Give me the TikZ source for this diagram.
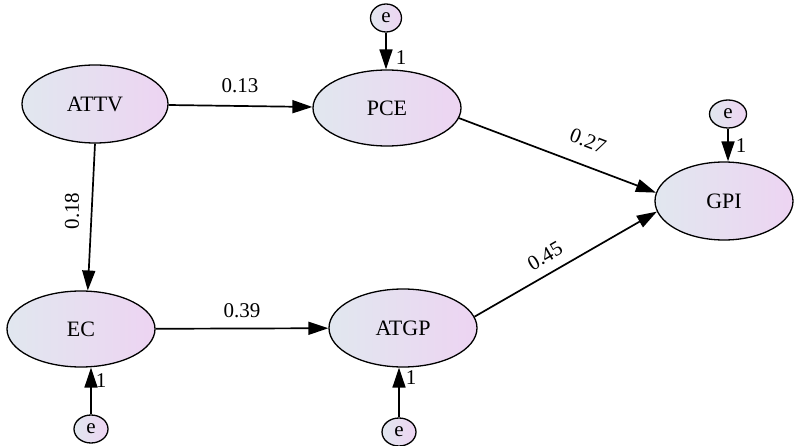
\documentclass[tikz,border=0pt]{standalone}
\usepackage{fontspec}
\setmainfont{Liberation Serif}
\usetikzlibrary{shapes.geometric,arrows.meta}
\definecolor{cleft}{HTML}{E1E7EF}
\definecolor{cright}{HTML}{EDD4F2}
\tikzset{
  lat/.style={ellipse, draw=black, line width=1.3pt, left color=cleft, right color=cright, inner sep=0pt, font=\fontsize{22}{25}\selectfont},
  err/.style={lat, minimum width=34pt, minimum height=28pt, font=\fontsize{21}{24}\selectfont},
  path/.style={line width=1.7pt, -{Triangle[length=20pt,width=13pt]}},
  coef/.style={font=\fontsize{21}{24}\selectfont, inner sep=0pt},
}
\begin{document}
\begin{tikzpicture}[x=1pt,y=-1pt]
\useasboundingbox (0,0) rectangle (794,446);
% latent variables
\node[lat, minimum width=146pt, minimum height=78pt] (ATTV) at (95,104) {ATTV};
\node[lat, minimum width=148pt, minimum height=76pt] (PCE) at (387,108) {PCE};
\node[lat, minimum width=138pt, minimum height=78pt] (GPI) at (724,201) {GPI};
\node[lat, minimum width=148pt, minimum height=76pt] (EC) at (81,329) {EC};
\node[lat, minimum width=148pt, minimum height=78pt] (ATGP) at (403,328) {ATGP};
% error terms
\node[err, minimum width=31pt] (e1) at (386,18) {e};
\node[err, minimum width=37pt] (e2) at (728,114) {e};
\node[err] (e3) at (91,429) {e};
\node[err] (e4) at (399,432) {e};
% structural paths
\draw[path] (ATTV) -- (PCE);
\draw[path] (ATTV.south) -- (EC.80);
\draw[path] (EC) -- (ATGP);
\draw[path] (PCE.-8) -- (GPI.173);
\draw[path] (ATGP.9) -- (GPI.-171);
% error paths
\draw[path] (e1) -- (e1 |- PCE.north);
\draw[path] (e2) -- (e2 |- GPI.north);
\draw[path] (e3) -- (e3 |- EC.south);
\draw[path] (e4) -- (e4 |- ATGP.south);
% coefficients
\node[coef] (c13) at (240,86) {0.13};
\node[coef, rotate=90] (c18) at (72,211) {0.18};
\node[coef] (c39) at (242,311) {0.39};
\node[coef, rotate=-21] (c27) at (588,141) {0.27};
\node[coef, rotate=30] (c45) at (545,256) {0.45};
\node[coef] (f1) at (401,58) {1};
\node[coef] (f2) at (741,146) {1};
\node[coef] (f3) at (101,381) {1};
\node[coef] (f4) at (411,378) {1};
\end{tikzpicture}
\end{document}
